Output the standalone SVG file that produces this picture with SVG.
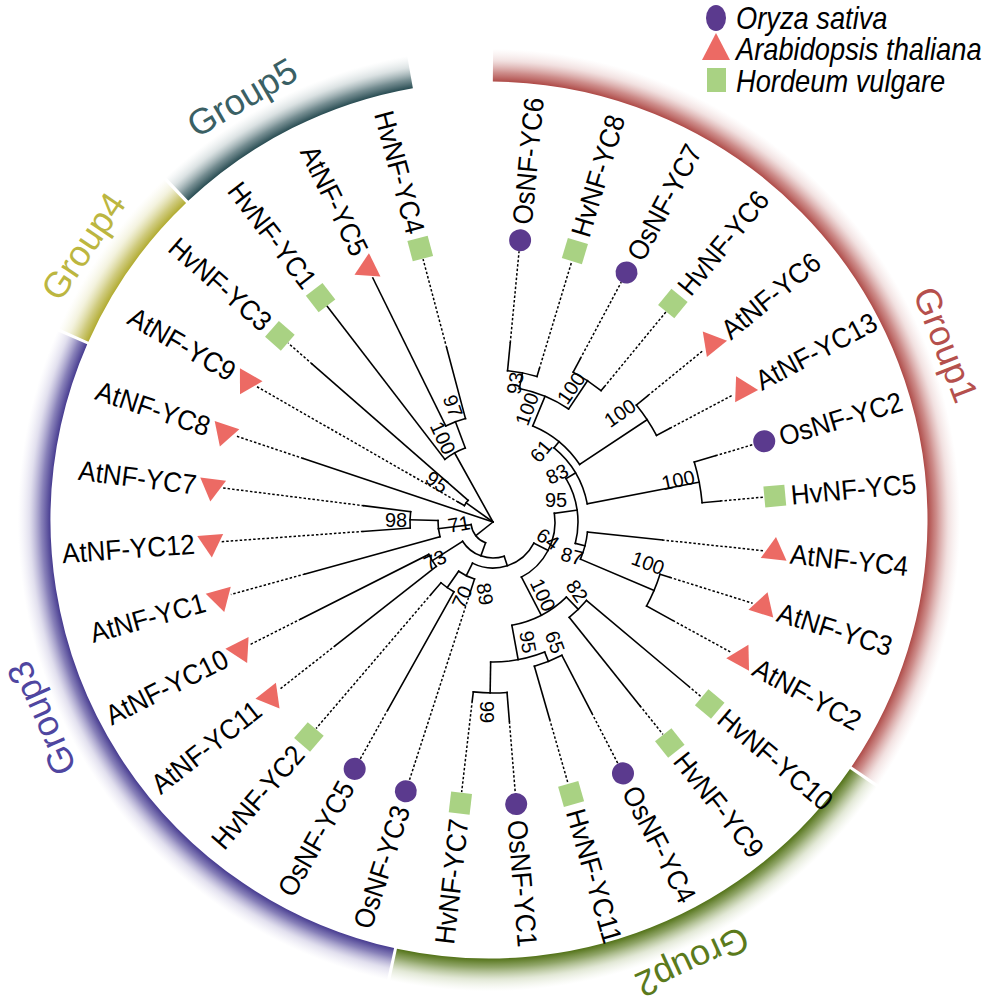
<svg xmlns="http://www.w3.org/2000/svg" width="1000" height="1006" viewBox="0 0 1000 1006">
<style>
.br{stroke:#000;stroke-width:1.6;fill:none;stroke-linecap:square}
.dt{stroke:#000;stroke-width:1.5;fill:none;stroke-dasharray:2.5 2}
.lb{font-family:"Liberation Sans",Arial,sans-serif;font-size:28px;fill:#000}
.bs{font-family:"Liberation Sans",Arial,sans-serif;font-size:20px;fill:#000;text-anchor:middle;dominant-baseline:central}
.lg{font-family:"Liberation Sans",Arial,sans-serif;font-size:31px;font-style:italic;fill:#000}
.gl{font-family:"Liberation Sans",Arial,sans-serif;font-size:36px;text-anchor:middle}
.os{fill:#5b3a8e}.at{fill:#ec6a64}.hv{fill:#a9d283}
.band{fill:none;stroke-width:37}
</style>
<defs>
<radialGradient id="g1" gradientUnits="userSpaceOnUse" cx="0" cy="0" r="476"><stop offset="0.922" stop-color="#b04e4b"/><stop offset="0.94" stop-color="#b85c59" stop-opacity="0.7"/><stop offset="0.965" stop-color="#c98583" stop-opacity="0.25"/><stop offset="0.99" stop-color="#e0b0ae" stop-opacity="0"/></radialGradient>
<radialGradient id="g2" gradientUnits="userSpaceOnUse" cx="0" cy="0" r="476"><stop offset="0.922" stop-color="#56751c"/><stop offset="0.94" stop-color="#62802a" stop-opacity="0.7"/><stop offset="0.965" stop-color="#8aa25a" stop-opacity="0.25"/><stop offset="0.99" stop-color="#b8c898" stop-opacity="0"/></radialGradient>
<radialGradient id="g3" gradientUnits="userSpaceOnUse" cx="0" cy="0" r="476"><stop offset="0.922" stop-color="#4a3f92"/><stop offset="0.94" stop-color="#574d9c" stop-opacity="0.7"/><stop offset="0.965" stop-color="#8880bb" stop-opacity="0.25"/><stop offset="0.99" stop-color="#b8b2da" stop-opacity="0"/></radialGradient>
<radialGradient id="g4" gradientUnits="userSpaceOnUse" cx="0" cy="0" r="476"><stop offset="0.922" stop-color="#b3ad35"/><stop offset="0.94" stop-color="#bbb548" stop-opacity="0.7"/><stop offset="0.965" stop-color="#d0cc7a" stop-opacity="0.25"/><stop offset="0.99" stop-color="#e6e3b0" stop-opacity="0"/></radialGradient>
<radialGradient id="g5" gradientUnits="userSpaceOnUse" cx="0" cy="0" r="476"><stop offset="0.922" stop-color="#2c4f55"/><stop offset="0.94" stop-color="#3b5d63" stop-opacity="0.7"/><stop offset="0.965" stop-color="#6f8a8e" stop-opacity="0.25"/><stop offset="0.99" stop-color="#a8bbbd" stop-opacity="0"/></radialGradient>
</defs>
<rect width="1000" height="1006" fill="#fff"/>

<g id="groups" transform="translate(489,520)">
<g id="group1"><circle class="band" r="457" stroke="url(#g1)" stroke-dasharray="986.6 3000" transform="rotate(-89.5)"/><text class="gl" fill="#b5504d" transform="rotate(-21) translate(477,0) rotate(90)">Group1</text></g>
<g id="group2"><circle class="band" r="457" stroke="url(#g2)" stroke-dasharray="538.4 3000" transform="rotate(34.6)"/><text class="gl" fill="#5b7a1c" transform="rotate(65.3) translate(474,0) rotate(90)">Group2</text></g>
<g id="group3"><circle class="band" r="457" stroke="url(#g3)" stroke-dasharray="806.4 3000" transform="rotate(102.5)"/><text class="gl" fill="#4f46a0" transform="rotate(156.1) translate(477,0) rotate(90)">Group3</text></g>
<g id="group4"><circle class="band" r="457" stroke="url(#g4)" stroke-dasharray="177.9 3000" transform="rotate(204)"/><text class="gl" fill="#bcb640" transform="rotate(214) translate(477,0) rotate(90)">Group4</text></g>
<g id="group5"><circle class="band" r="457" stroke="url(#g5)" stroke-dasharray="265.6 3000" transform="rotate(226.7)"/><text class="gl" fill="#3a6064" transform="rotate(239.7) translate(477,0) rotate(90)">Group5</text></g>
</g>

<g id="legend">
<ellipse class="os" cx="716" cy="18" rx="10" ry="13"/>
<text class="lg" transform="translate(736,29) scale(0.88,1)">Oryza sativa</text>
<polygon class="at" points="716,33 730,60 702,60"/>
<text class="lg" transform="translate(736,60) scale(0.88,1)">Arabidopsis thaliana</text>
<rect class="hv" x="707" y="68" width="19" height="24"/>
<text class="lg" transform="translate(736,92) scale(0.88,1)">Hordeum vulgare</text>
</g>

<g transform="translate(493,522)">
<g id="connectors">
<circle class="br" r="152" stroke-dasharray="30.03 3000" transform="rotate(-84.5)"/>
<circle class="br" r="170" stroke-dasharray="33.59 3000" transform="rotate(-61.86)"/>
<circle class="br" r="136" stroke-dasharray="53.74 3000" transform="rotate(-78.84)"/>
<circle class="br" r="185" stroke-dasharray="36.55 3000" transform="rotate(-39.22)"/>
<circle class="br" r="104" stroke-dasharray="61.64 3000" transform="rotate(-67.52)"/>
<circle class="br" r="210" stroke-dasharray="41.49 3000" transform="rotate(-16.58)"/>
<circle class="br" r="96" stroke-dasharray="66.38 3000" transform="rotate(-50.54)"/>
<circle class="br" r="175" stroke-dasharray="34.57 3000" transform="rotate(17.38)"/>
<circle class="br" r="95" stroke-dasharray="28.15 3000" transform="rotate(6.06)"/>
<circle class="br" r="85" stroke-dasharray="67.17 3000" transform="rotate(-30.73)"/>
<circle class="br" r="122" stroke-dasharray="24.10 3000" transform="rotate(40.02)"/>
<circle class="br" r="150" stroke-dasharray="29.64 3000" transform="rotate(62.66)"/>
<circle class="br" r="171" stroke-dasharray="33.78 3000" transform="rotate(85.30)"/>
<circle class="br" r="140" stroke-dasharray="55.32 3000" transform="rotate(68.32)"/>
<circle class="br" r="105" stroke-dasharray="62.23 3000" transform="rotate(45.68)"/>
<circle class="br" r="62" stroke-dasharray="76.56 3000" transform="rotate(-8.09)"/>
<circle class="br" r="80" stroke-dasharray="15.81 3000" transform="rotate(119.26)"/>
<circle class="br" r="60" stroke-dasharray="17.78 3000" transform="rotate(107.94)"/>
<circle class="br" r="46" stroke-dasharray="71.56 3000" transform="rotate(27.29)"/>
<circle class="br" r="72" stroke-dasharray="14.23 3000" transform="rotate(141.90)"/>
<circle class="br" r="36" stroke-dasharray="47.56 3000" transform="rotate(71.86)"/>
<circle class="br" r="83" stroke-dasharray="16.40 3000" transform="rotate(175.86)"/>
<circle class="br" r="55" stroke-dasharray="16.30 3000" transform="rotate(164.54)"/>
<circle class="br" r="22" stroke-dasharray="24.31 3000" transform="rotate(109.71)"/>
<circle class="br" r="33" stroke-dasharray="6.52 3000" transform="rotate(209.82)"/>
<circle class="br" r="107" stroke-dasharray="21.14 3000" transform="rotate(243.78)"/>
<circle class="br" r="79" stroke-dasharray="23.41 3000" transform="rotate(232.46)"/>

<line class="br" x1="136" x2="152" transform="rotate(-78.84)"/>
<line class="br" x1="136" x2="170" transform="rotate(-56.20)"/>
<line class="br" x1="104" x2="136" transform="rotate(-67.52)"/>
<line class="br" x1="104" x2="185" transform="rotate(-33.56)"/>
<line class="br" x1="96" x2="104" transform="rotate(-50.54)"/>
<line class="br" x1="96" x2="210" transform="rotate(-10.92)"/>
<line class="br" x1="85" x2="96" transform="rotate(-30.73)"/>
<line class="br" x1="95" x2="175" transform="rotate(23.04)"/>
<line class="br" x1="85" x2="95" transform="rotate(14.55)"/>
<line class="br" x1="62" x2="85" transform="rotate(-8.09)"/>
<line class="br" x1="105" x2="122" transform="rotate(45.68)"/>
<line class="br" x1="140" x2="150" transform="rotate(68.32)"/>
<line class="br" x1="140" x2="171" transform="rotate(90.96)"/>
<line class="br" x1="105" x2="140" transform="rotate(79.64)"/>
<line class="br" x1="62" x2="105" transform="rotate(62.66)"/>
<line class="br" x1="46" x2="62" transform="rotate(27.29)"/>
<line class="br" x1="60" x2="80" transform="rotate(124.92)"/>
<line class="br" x1="46" x2="60" transform="rotate(116.43)"/>
<line class="br" x1="36" x2="46" transform="rotate(71.86)"/>
<line class="br" x1="36" x2="72" transform="rotate(147.56)"/>
<line class="br" x1="22" x2="36" transform="rotate(109.71)"/>
<line class="br" x1="55" x2="83" transform="rotate(181.52)"/>
<line class="br" x1="22" x2="55" transform="rotate(173.03)"/>
<line class="br" x1="0" x2="22" transform="rotate(141.37)"/>
<line class="br" x1="0" x2="33" transform="rotate(215.48)"/>
<line class="br" x1="79" x2="107" transform="rotate(249.44)"/>
<line class="br" x1="0" x2="79" transform="rotate(240.95)"/>

<line class="br" x1="152" x2="180" transform="rotate(-84.50)"/><line class="dt" x1="180" x2="272" transform="rotate(-84.50)"/>
<line class="br" x1="152" x2="160" transform="rotate(-73.18)"/><line class="dt" x1="160" x2="272" transform="rotate(-73.18)"/>
<line class="br" x1="170" x2="185" transform="rotate(-61.86)"/><line class="dt" x1="185" x2="272" transform="rotate(-61.86)"/>
<line class="br" x1="170" x2="175" transform="rotate(-50.54)"/><line class="dt" x1="175" x2="272" transform="rotate(-50.54)"/>
<line class="br" x1="185" x2="200" transform="rotate(-39.22)"/><line class="dt" x1="200" x2="272" transform="rotate(-39.22)"/>
<line class="br" x1="185" x2="200" transform="rotate(-27.90)"/><line class="dt" x1="200" x2="272" transform="rotate(-27.90)"/>
<line class="br" x1="210" x2="232" transform="rotate(-16.58)"/><line class="dt" x1="232" x2="272" transform="rotate(-16.58)"/>
<line class="br" x1="210" x2="228" transform="rotate(-5.26)"/><line class="dt" x1="228" x2="272" transform="rotate(-5.26)"/>
<line class="br" x1="95" x2="170" transform="rotate(6.06)"/><line class="dt" x1="170" x2="272" transform="rotate(6.06)"/>
<line class="br" x1="175" x2="185" transform="rotate(17.38)"/><line class="dt" x1="185" x2="272" transform="rotate(17.38)"/>
<line class="br" x1="175" x2="205" transform="rotate(28.70)"/><line class="dt" x1="205" x2="272" transform="rotate(28.70)"/>
<line class="br" x1="122" x2="255" transform="rotate(40.02)"/><line class="dt" x1="255" x2="272" transform="rotate(40.02)"/>
<line class="br" x1="122" x2="235" transform="rotate(51.34)"/><line class="dt" x1="235" x2="272" transform="rotate(51.34)"/>
<line class="br" x1="150" x2="215" transform="rotate(62.66)"/><line class="dt" x1="215" x2="272" transform="rotate(62.66)"/>
<line class="br" x1="150" x2="205" transform="rotate(73.98)"/><line class="dt" x1="205" x2="272" transform="rotate(73.98)"/>
<line class="br" x1="171" x2="200" transform="rotate(85.30)"/><line class="dt" x1="200" x2="272" transform="rotate(85.30)"/>
<line class="br" x1="171" x2="180" transform="rotate(96.62)"/><line class="dt" x1="180" x2="272" transform="rotate(96.62)"/>
<line class="br" x1="60" x2="75" transform="rotate(107.94)"/><line class="dt" x1="75" x2="272" transform="rotate(107.94)"/>
<line class="br" x1="80" x2="215" transform="rotate(119.26)"/><line class="dt" x1="215" x2="272" transform="rotate(119.26)"/>
<line class="br" x1="80" x2="95" transform="rotate(130.58)"/><line class="dt" x1="95" x2="272" transform="rotate(130.58)"/>
<line class="br" x1="72" x2="200" transform="rotate(141.90)"/><line class="dt" x1="200" x2="272" transform="rotate(141.90)"/>
<line class="br" x1="72" x2="215" transform="rotate(153.22)"/><line class="dt" x1="215" x2="272" transform="rotate(153.22)"/>
<line class="br" x1="55" x2="195" transform="rotate(164.54)"/><line class="dt" x1="195" x2="272" transform="rotate(164.54)"/>
<line class="br" x1="83" x2="130" transform="rotate(175.86)"/><line class="dt" x1="130" x2="272" transform="rotate(175.86)"/>
<line class="br" x1="83" x2="130" transform="rotate(187.18)"/><line class="dt" x1="130" x2="272" transform="rotate(187.18)"/>
<line class="br" x1="0" x2="200" transform="rotate(198.50)"/><line class="dt" x1="200" x2="272" transform="rotate(198.50)"/>
<line class="br" x1="33" x2="40" transform="rotate(209.82)"/><line class="dt" x1="40" x2="272" transform="rotate(209.82)"/>
<line class="br" x1="33" x2="240" transform="rotate(221.14)"/><line class="dt" x1="240" x2="272" transform="rotate(221.14)"/>
<line class="br" x1="79" x2="272" transform="rotate(232.46)"/>
<line class="br" x1="107" x2="272" transform="rotate(243.78)"/>
<line class="br" x1="107" x2="180" transform="rotate(255.10)"/><line class="dt" x1="180" x2="272" transform="rotate(255.10)"/>
</g>

<g id="leaves">
<g id="OsNF-YC6"><circle class="os" r="11" transform="rotate(-84.50) translate(283,0)"/><text class="lb" dy="0.36em" transform="rotate(-84.50) translate(299,0) scale(0.93,1)">OsNF-YC6</text></g>
<g id="HvNF-YC8"><rect class="hv" x="-10.5" y="-10.5" width="21" height="21" transform="rotate(-73.18) translate(283,0)"/><text class="lb" dy="0.36em" transform="rotate(-73.18) translate(299,0) scale(0.93,1)">HvNF-YC8</text></g>
<g id="OsNF-YC7"><circle class="os" r="11" transform="rotate(-61.86) translate(283,0)"/><text class="lb" dy="0.36em" transform="rotate(-61.86) translate(299,0) scale(0.93,1)">OsNF-YC7</text></g>
<g id="HvNF-YC6"><rect class="hv" x="-10.5" y="-10.5" width="21" height="21" transform="rotate(-50.54) translate(283,0)"/><text class="lb" dy="0.36em" transform="rotate(-50.54) translate(299,0) scale(0.93,1)">HvNF-YC6</text></g>
<g id="AtNF-YC6"><polygon class="at" points="0,-15 13,7.5 -13,7.5" transform="rotate(-39.22) translate(283,0)"/><text class="lb" dy="0.36em" transform="rotate(-39.22) translate(299,0) scale(0.93,1)">AtNF-YC6</text></g>
<g id="AtNF-YC13"><polygon class="at" points="0,-15 13,7.5 -13,7.5" transform="rotate(-27.90) translate(283,0)"/><text class="lb" dy="0.36em" transform="rotate(-27.90) translate(299,0) scale(0.93,1)">AtNF-YC13</text></g>
<g id="OsNF-YC2"><circle class="os" r="11" transform="rotate(-16.58) translate(283,0)"/><text class="lb" dy="0.36em" transform="rotate(-16.58) translate(299,0) scale(0.93,1)">OsNF-YC2</text></g>
<g id="HvNF-YC5"><rect class="hv" x="-10.5" y="-10.5" width="21" height="21" transform="rotate(-5.26) translate(283,0)"/><text class="lb" dy="0.36em" transform="rotate(-5.26) translate(299,0) scale(0.93,1)">HvNF-YC5</text></g>
<g id="AtNF-YC4"><polygon class="at" points="0,-15 13,7.5 -13,7.5" transform="rotate(6.06) translate(283,0)"/><text class="lb" dy="0.36em" transform="rotate(6.06) translate(299,0) scale(0.93,1)">AtNF-YC4</text></g>
<g id="AtNF-YC3"><polygon class="at" points="0,-15 13,7.5 -13,7.5" transform="rotate(17.38) translate(283,0)"/><text class="lb" dy="0.36em" transform="rotate(17.38) translate(299,0) scale(0.93,1)">AtNF-YC3</text></g>
<g id="AtNF-YC2"><polygon class="at" points="0,-15 13,7.5 -13,7.5" transform="rotate(28.70) translate(283,0)"/><text class="lb" dy="0.36em" transform="rotate(28.70) translate(299,0) scale(0.93,1)">AtNF-YC2</text></g>
<g id="HvNF-YC10"><rect class="hv" x="-10.5" y="-10.5" width="21" height="21" transform="rotate(40.02) translate(283,0)"/><text class="lb" dy="0.36em" transform="rotate(40.02) translate(299,0) scale(0.93,1)">HvNF-YC10</text></g>
<g id="HvNF-YC9"><rect class="hv" x="-10.5" y="-10.5" width="21" height="21" transform="rotate(51.34) translate(283,0)"/><text class="lb" dy="0.36em" transform="rotate(51.34) translate(299,0) scale(0.93,1)">HvNF-YC9</text></g>
<g id="OsNF-YC4"><circle class="os" r="11" transform="rotate(62.66) translate(283,0)"/><text class="lb" dy="0.36em" transform="rotate(62.66) translate(299,0) scale(0.93,1)">OsNF-YC4</text></g>
<g id="HvNF-YC11"><rect class="hv" x="-10.5" y="-10.5" width="21" height="21" transform="rotate(73.98) translate(283,0)"/><text class="lb" dy="0.36em" transform="rotate(73.98) translate(299,0) scale(0.93,1)">HvNF-YC11</text></g>
<g id="OsNF-YC1"><circle class="os" r="11" transform="rotate(85.30) translate(283,0)"/><text class="lb" dy="0.36em" transform="rotate(85.30) translate(299,0) scale(0.93,1)">OsNF-YC1</text></g>
<g id="HvNF-YC7"><rect class="hv" x="-10.5" y="-10.5" width="21" height="21" transform="rotate(96.62) translate(283,0)"/><text class="lb" dy="0.36em" text-anchor="end" transform="rotate(96.62) translate(299,0) rotate(180) scale(0.93,1)">HvNF-YC7</text></g>
<g id="OsNF-YC3"><circle class="os" r="11" transform="rotate(107.94) translate(283,0)"/><text class="lb" dy="0.36em" text-anchor="end" transform="rotate(107.94) translate(299,0) rotate(180) scale(0.93,1)">OsNF-YC3</text></g>
<g id="OsNF-YC5"><circle class="os" r="11" transform="rotate(119.26) translate(283,0)"/><text class="lb" dy="0.36em" text-anchor="end" transform="rotate(119.26) translate(299,0) rotate(180) scale(0.93,1)">OsNF-YC5</text></g>
<g id="HvNF-YC2"><rect class="hv" x="-10.5" y="-10.5" width="21" height="21" transform="rotate(130.58) translate(283,0)"/><text class="lb" dy="0.36em" text-anchor="end" transform="rotate(130.58) translate(299,0) rotate(180) scale(0.93,1)">HvNF-YC2</text></g>
<g id="AtNF-YC11"><polygon class="at" points="0,-15 13,7.5 -13,7.5" transform="rotate(141.90) translate(283,0)"/><text class="lb" dy="0.36em" text-anchor="end" transform="rotate(141.90) translate(299,0) rotate(180) scale(0.93,1)">AtNF-YC11</text></g>
<g id="AtNF-YC10"><polygon class="at" points="0,-15 13,7.5 -13,7.5" transform="rotate(153.22) translate(283,0)"/><text class="lb" dy="0.36em" text-anchor="end" transform="rotate(153.22) translate(299,0) rotate(180) scale(0.93,1)">AtNF-YC10</text></g>
<g id="AtNF-YC1"><polygon class="at" points="0,-15 13,7.5 -13,7.5" transform="rotate(164.54) translate(283,0)"/><text class="lb" dy="0.36em" text-anchor="end" transform="rotate(164.54) translate(299,0) rotate(180) scale(0.93,1)">AtNF-YC1</text></g>
<g id="AtNF-YC12"><polygon class="at" points="0,-15 13,7.5 -13,7.5" transform="rotate(175.86) translate(283,0)"/><text class="lb" dy="0.36em" text-anchor="end" transform="rotate(175.86) translate(299,0) rotate(180) scale(0.93,1)">AtNF-YC12</text></g>
<g id="AtNF-YC7"><polygon class="at" points="0,-15 13,7.5 -13,7.5" transform="rotate(187.18) translate(283,0)"/><text class="lb" dy="0.36em" text-anchor="end" transform="rotate(187.18) translate(299,0) rotate(180) scale(0.93,1)">AtNF-YC7</text></g>
<g id="AtNF-YC8"><polygon class="at" points="0,-15 13,7.5 -13,7.5" transform="rotate(198.50) translate(283,0)"/><text class="lb" dy="0.36em" text-anchor="end" transform="rotate(198.50) translate(299,0) rotate(180) scale(0.93,1)">AtNF-YC8</text></g>
<g id="AtNF-YC9"><polygon class="at" points="0,-15 13,7.5 -13,7.5" transform="rotate(209.82) translate(283,0)"/><text class="lb" dy="0.36em" text-anchor="end" transform="rotate(209.82) translate(299,0) rotate(180) scale(0.93,1)">AtNF-YC9</text></g>
<g id="HvNF-YC3"><rect class="hv" x="-10.5" y="-10.5" width="21" height="21" transform="rotate(221.14) translate(283,0)"/><text class="lb" dy="0.36em" text-anchor="end" transform="rotate(221.14) translate(299,0) rotate(180) scale(0.93,1)">HvNF-YC3</text></g>
<g id="HvNF-YC1"><rect class="hv" x="-10.5" y="-10.5" width="21" height="21" transform="rotate(232.46) translate(283,0)"/><text class="lb" dy="0.36em" text-anchor="end" transform="rotate(232.46) translate(299,0) rotate(180) scale(0.93,1)">HvNF-YC1</text></g>
<g id="AtNF-YC5"><polygon class="at" points="0,-15 13,7.5 -13,7.5" transform="rotate(243.78) translate(283,0)"/><text class="lb" dy="0.36em" text-anchor="end" transform="rotate(243.78) translate(299,0) rotate(180) scale(0.93,1)">AtNF-YC5</text></g>
<g id="HvNF-YC4"><rect class="hv" x="-10.5" y="-10.5" width="21" height="21" transform="rotate(255.10) translate(283,0)"/><text class="lb" dy="0.36em" text-anchor="end" transform="rotate(255.10) translate(299,0) rotate(180) scale(0.93,1)">HvNF-YC4</text></g>
</g>
</g>

<g id="bootstrap">
<text class="bs" transform="translate(515,383) rotate(-80)">93</text>
<text class="bs" transform="translate(527,409) rotate(-70)">100</text>
<text class="bs" transform="translate(571,388) rotate(-55)">100</text>
<text class="bs" transform="translate(620,413) rotate(-35)">100</text>
<text class="bs" transform="translate(541,451) rotate(-50)">61</text>
<text class="bs" transform="translate(557,474) rotate(-25)">83</text>
<text class="bs" transform="translate(556,500)">95</text>
<text class="bs" transform="translate(678,480) rotate(-12)">100</text>
<text class="bs" transform="translate(548,539) rotate(35)">64</text>
<text class="bs" transform="translate(572,556) rotate(15)">87</text>
<text class="bs" transform="translate(648,563) rotate(20)">100</text>
<text class="bs" transform="translate(543,595) rotate(65)">100</text>
<text class="bs" transform="translate(577,591) rotate(55)">82</text>
<text class="bs" transform="translate(528,642) rotate(80)">95</text>
<text class="bs" transform="translate(555,642) rotate(70)">65</text>
<text class="bs" transform="translate(487,712) rotate(90)">99</text>
<text class="bs" transform="translate(462,597) rotate(-65)">70</text>
<text class="bs" transform="translate(485,594) rotate(80)">89</text>
<text class="bs" transform="translate(435,560) rotate(-25)">73</text>
<text class="bs" transform="translate(459,524) rotate(-10)">71</text>
<text class="bs" transform="translate(396,520)">98</text>
<text class="bs" transform="translate(437,482) rotate(35)">95</text>
<text class="bs" transform="translate(453,406) rotate(70)">97</text>
<text class="bs" transform="translate(443,438) rotate(65)">100</text>
</g>
</svg>
